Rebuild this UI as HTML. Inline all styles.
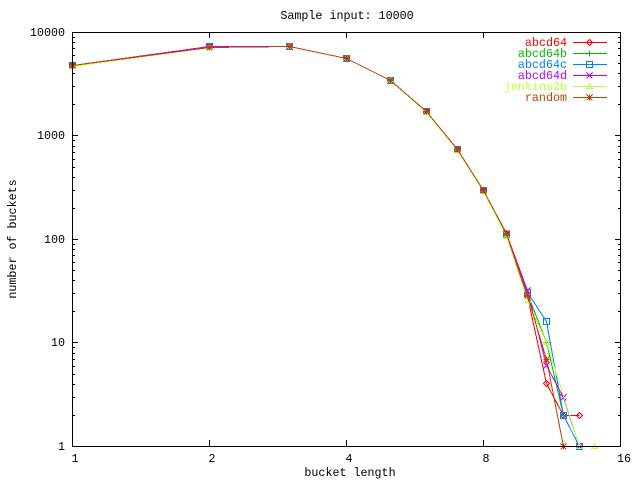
<!DOCTYPE html>
<html>
<head>
<meta charset="utf-8">
<style>
html,body{margin:0;padding:0;background:#fff;}
svg{display:block;}
text{font-family:"Liberation Mono","DejaVu Sans Mono",monospace;font-size:11.7px;}
</style>
</head>
<body>
<svg width="640" height="480" viewBox="0 0 640 480" xmlns="http://www.w3.org/2000/svg">
<rect width="640" height="480" fill="#fff"/>

<!-- title -->
<text x="347" y="19" text-anchor="middle" fill="#000">Sample input: 10000</text>

<!-- axis labels -->
<text x="350" y="476" text-anchor="middle" fill="#000">bucket length</text>
<text transform="translate(16,239) rotate(-90)" text-anchor="middle" fill="#000">number of buckets</text>

<!-- y tick labels -->
<g fill="#000" text-anchor="end">
<text x="65" y="36">10000</text>
<text x="65" y="139">1000</text>
<text x="65" y="243">100</text>
<text x="65" y="346">10</text>
<text x="65" y="450">1</text>
</g>
<!-- x tick labels -->
<g fill="#000" text-anchor="middle">
<text x="75" y="462">1</text>
<text x="212" y="462">2</text>
<text x="349" y="462">4</text>
<text x="486" y="462">8</text>
<text x="624" y="462">16</text>
</g>

<!-- ticks -->
<g stroke="#000" stroke-width="1" shape-rendering="crispEdges" fill="none">
<path d="M72 446.5h6M72 342.5h6M72 239.5h6M72 135.5h6M72 32.5h6
M621 446.5h-6M621 342.5h-6M621 239.5h-6M621 135.5h-6M621 32.5h-6"/>
<path d="M72 415.5h3M72 397.5h3M72 384.5h3M72 374.5h3M72 366.5h3M72 359.5h3M72 353.5h3M72 347.5h3
M72 311.5h3M72 293.5h3M72 280.5h3M72 270.5h3M72 262.5h3M72 255.5h3M72 249.5h3M72 244.5h3
M72 208.5h3M72 190.5h3M72 177.5h3M72 167.5h3M72 159.5h3M72 152.5h3M72 146.5h3M72 140.5h3
M72 104.5h3M72 86.5h3M72 73.5h3M72 63.5h3M72 55.5h3M72 48.5h3M72 42.5h3M72 37.5h3
M621 415.5h-3M621 397.5h-3M621 384.5h-3M621 374.5h-3M621 366.5h-3M621 359.5h-3M621 353.5h-3M621 347.5h-3
M621 311.5h-3M621 293.5h-3M621 280.5h-3M621 270.5h-3M621 262.5h-3M621 255.5h-3M621 249.5h-3M621 244.5h-3
M621 208.5h-3M621 190.5h-3M621 177.5h-3M621 167.5h-3M621 159.5h-3M621 152.5h-3M621 146.5h-3M621 140.5h-3
M621 104.5h-3M621 86.5h-3M621 73.5h-3M621 63.5h-3M621 55.5h-3M621 48.5h-3M621 42.5h-3M621 37.5h-3"/>
<path d="M209.5 446v-6M346.5 446v-6M483.5 446v-6M209.5 32v6M346.5 32v6M483.5 32v6"/>
</g>

<!-- series -->
<g fill="none" stroke-width="1" shape-rendering="crispEdges">
<!-- abcd64 red -->
<g stroke="#ff0000">
<polyline points="72.5,65.5 209.5,46.5 289.5,46.5 346.5,58.5 390.5,80.5 426.5,111.5 457.5,149.5 483.5,190.5 506.5,233.5 527.5,296.5 546.5,383.5 563.5,415.5 579.5,415.5"/>
<path d="M72.5 62.5l3 3l-3 3l-3 -3z M209.5 43.5l3 3l-3 3l-3 -3z M289.5 43.5l3 3l-3 3l-3 -3z M346.5 55.5l3 3l-3 3l-3 -3z M390.5 77.5l3 3l-3 3l-3 -3z M426.5 108.5l3 3l-3 3l-3 -3z M457.5 146.5l3 3l-3 3l-3 -3z M483.5 187.5l3 3l-3 3l-3 -3z M506.5 230.5l3 3l-3 3l-3 -3z M527.5 293.5l3 3l-3 3l-3 -3z M546.5 380.5l3 3l-3 3l-3 -3z M563.5 412.5l3 3l-3 3l-3 -3z M579.5 412.5l3 3l-3 3l-3 -3z"/>
</g>
<!-- abcd64b green -->
<g stroke="#00c000">
<polyline points="72.5,65.5 209.5,46.5 289.5,46.5 346.5,58.5 390.5,80.5 426.5,111.5 457.5,149.5 483.5,190.5 506.5,234.5 527.5,293.5 546.5,342.5 563.5,415.5"/>
<path d="M69.5 65.5h6M72.5 62.5v6 M206.5 46.5h6M209.5 43.5v6 M286.5 46.5h6M289.5 43.5v6 M343.5 58.5h6M346.5 55.5v6 M387.5 80.5h6M390.5 77.5v6 M423.5 111.5h6M426.5 108.5v6 M454.5 149.5h6M457.5 146.5v6 M480.5 190.5h6M483.5 187.5v6 M503.5 234.5h6M506.5 231.5v6 M524.5 293.5h6M527.5 290.5v6 M543.5 342.5h6M546.5 339.5v6 M560.5 415.5h6M563.5 412.5v6"/>
</g>
<!-- abcd64c blue -->
<g stroke="#0080ff">
<polyline points="72.5,65.5 209.5,46.5 289.5,46.5 346.5,58.5 390.5,80.5 426.5,111.5 457.5,149.5 483.5,190.5 506.5,234.5 527.5,292.5 546.5,321.5 563.5,415.5 579.5,446.5"/>
<path d="M69.5 62.5h6v6h-6z M206.5 43.5h6v6h-6z M286.5 43.5h6v6h-6z M343.5 55.5h6v6h-6z M387.5 77.5h6v6h-6z M423.5 108.5h6v6h-6z M454.5 146.5h6v6h-6z M480.5 187.5h6v6h-6z M503.5 231.5h6v6h-6z M524.5 289.5h6v6h-6z M543.5 318.5h6v6h-6z M560.5 412.5h6v6h-6z M576.5 443.5h6v6h-6z"/>
</g>
<!-- abcd64d purple -->
<g stroke="#c000ff">
<polyline points="72.5,65.5 209.5,46.5 250.5,46.5 289.5,46.5 346.5,58.5 390.5,80.5 426.5,111.5 457.5,149.5 483.5,190.5 506.5,233.5 527.5,290.5 546.5,365.5 563.5,397.5 579.5,446.5"/>
<path d="M69.5 62.5l6 6M75.5 62.5l-6 6 M206.5 43.5l6 6M212.5 43.5l-6 6 M286.5 43.5l6 6M292.5 43.5l-6 6 M343.5 55.5l6 6M349.5 55.5l-6 6 M387.5 77.5l6 6M393.5 77.5l-6 6 M423.5 108.5l6 6M429.5 108.5l-6 6 M454.5 146.5l6 6M460.5 146.5l-6 6 M480.5 187.5l6 6M486.5 187.5l-6 6 M503.5 230.5l6 6M509.5 230.5l-6 6 M524.5 287.5l6 6M530.5 287.5l-6 6 M543.5 362.5l6 6M549.5 362.5l-6 6 M560.5 394.5l6 6M566.5 394.5l-6 6 M576.5 443.5l6 6M582.5 443.5l-6 6"/>
</g>
<!-- jenkins2b yellow-green -->
<g stroke="#c0ff40">
<polyline points="72.5,66.5 209.5,47.5 289.5,46.5 346.5,58.5 390.5,80.5 426.5,112.5 457.5,150.5 483.5,191.5 506.5,236.5 527.5,300.5 546.5,342.5 579.5,446.5 594.5,446.5"/>
<path d="M72.5 63.5l3 5h-6z M209.5 44.5l3 5h-6z M289.5 43.5l3 5h-6z M346.5 55.5l3 5h-6z M390.5 77.5l3 5h-6z M426.5 109.5l3 5h-6z M457.5 147.5l3 5h-6z M483.5 188.5l3 5h-6z M506.5 233.5l3 5h-6z M527.5 297.5l3 5h-6z M546.5 339.5l3 5h-6z M579.5 443.5l3 5h-6z M594.5 443.5l3 5h-6z"/>
</g>
<!-- random brown -->
<g stroke="#c04000">
<polyline points="72.5,65.5 209.5,47.5 289.5,46.5 346.5,58.5 390.5,80.5 426.5,111.5 457.5,149.5 483.5,190.5 506.5,233.5 527.5,295.5 546.5,359.5 563.5,446.5"/>
<path d="M69.5 65.5h6M72.5 62.5v6M69.5 62.5l6 6M75.5 62.5l-6 6
M206.5 47.5h6M209.5 44.5v6M206.5 44.5l6 6M212.5 44.5l-6 6
M286.5 46.5h6M289.5 43.5v6M286.5 43.5l6 6M292.5 43.5l-6 6
M343.5 58.5h6M346.5 55.5v6M343.5 55.5l6 6M349.5 55.5l-6 6
M387.5 80.5h6M390.5 77.5v6M387.5 77.5l6 6M393.5 77.5l-6 6
M423.5 111.5h6M426.5 108.5v6M423.5 108.5l6 6M429.5 108.5l-6 6
M454.5 149.5h6M457.5 146.5v6M454.5 146.5l6 6M460.5 146.5l-6 6
M480.5 190.5h6M483.5 187.5v6M480.5 187.5l6 6M486.5 187.5l-6 6
M503.5 233.5h6M506.5 230.5v6M503.5 230.5l6 6M509.5 230.5l-6 6
M524.5 295.5h6M527.5 292.5v6M524.5 292.5l6 6M530.5 292.5l-6 6
M543.5 359.5h6M546.5 356.5v6M543.5 356.5l6 6M549.5 356.5l-6 6
M560.5 446.5h6M563.5 443.5v6M560.5 443.5l6 6M566.5 443.5l-6 6"/>
</g>
</g>

<!-- border -->
<rect x="72.5" y="32.5" width="548" height="414" fill="none" stroke="#000" stroke-width="1" shape-rendering="crispEdges"/>

<!-- legend -->
<g text-anchor="end">
<text x="567" y="46" fill="#ff0000">abcd64</text>
<text x="567" y="57" fill="#00c000">abcd64b</text>
<text x="567" y="68" fill="#0080ff">abcd64c</text>
<text x="567" y="79" fill="#c000ff">abcd64d</text>
<text x="567" y="90" fill="#c0ff40">jenkins2b</text>
<text x="567" y="101" fill="#c04000">random</text>
</g>
<g fill="none" stroke-width="1" shape-rendering="crispEdges">
<path stroke="#ff0000" d="M573 42.5h34 M589.5 39.5l3 3l-3 3l-3 -3z"/>
<path stroke="#00c000" d="M573 53.5h34 M589.5 50.5v6"/>
<path stroke="#0080ff" d="M573 64.5h34 M586.5 61.5h6v6h-6z"/>
<path stroke="#c000ff" d="M573 75.5h34 M586.5 72.5l6 6M592.5 72.5l-6 6"/>
<path stroke="#c0ff40" d="M573 86.5h34 M589.5 83.5l3 5h-6z"/>
<path stroke="#c04000" d="M573 97.5h34 M589.5 94.5v6M586.5 94.5l6 6M592.5 94.5l-6 6"/>
</g>
</svg>
</body>
</html>
